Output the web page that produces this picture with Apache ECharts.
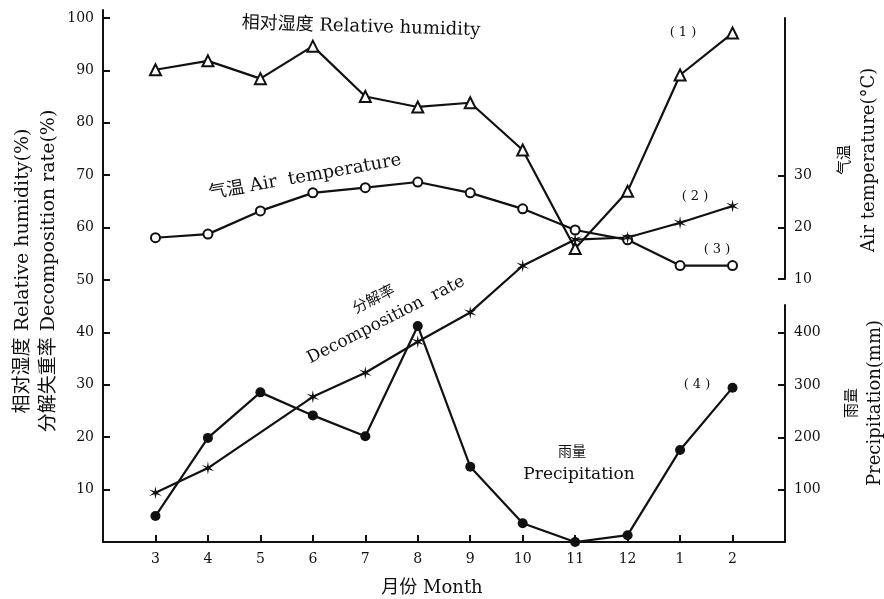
<!DOCTYPE html>
<html>
<head>
<meta charset="utf-8">
<script src="https://cdn.jsdelivr.net/npm/echarts@6/dist/echarts.min.js"></script>
<style>html,body{margin:0;padding:0;background:#fff}#c{width:884px;height:599px}</style>
</head>
<body>
<div id="c"></div>
<script>
// ---- data ----
var months = ['3','4','5','6','7','8','9','10','11','12','1','2'];
var humidity = [90.1, 91.8, 88.4, 94.6, 85.0, 83.0, 83.8, 74.8, 56.0, 66.9, 89.1, 97.1];
var temperature = [18.0, 18.7, 23.2, 26.7, 27.7, 28.8, 26.7, 23.6, 19.5, 17.6, 12.6, 12.6];
var decomposition = [9.4, 14.1, null, 27.7, 32.3, 38.2, 43.8, 52.7, 57.7, 58.1, 60.9, 64.1];
var precipitation = [49.6, 199, 286, 242, 202, 413, 144, 36, 0, 13, 176, 295];
var leftTicks = [10, 20, 30, 40, 50, 60, 70, 80, 90, 100];
var tempTicks = [10, 20, 30];
var precTicks = [100, 200, 300, 400];

var categories = [''].concat(months).concat([' ']);
function pairs(arr) { return arr.map(function (v, i) { return [i + 1, v]; }); }

var FONT = '"DejaVu Serif", "Noto Sans CJK SC", serif';

// six-point asterisk star symbol
function starPath() {
  var pts = [], n = 6, R = 10, r = 2.6;
  for (var i = 0; i < n * 2; i++) {
    var a = Math.PI / n * i - Math.PI / 2;
    var rad = (i % 2 === 0) ? R : r;
    pts.push((R + rad * Math.cos(a)).toFixed(2) + ',' + (R + rad * Math.sin(a)).toFixed(2));
  }
  return 'path://M' + pts.join(' L') + ' Z';
}

var black = '#111';
var axisLine = { show: true, lineStyle: { color: black, width: 2 } };

function xAx(idx, show) {
  return {
    type: 'category', gridIndex: idx, data: categories, boundaryGap: false,
    show: show,
    axisLine: axisLine,
    axisTick: { show: true, inside: true, length: 7, lineStyle: { color: black, width: 2 },
      interval: function (i) { return i > 0 && i < categories.length - 1; } },
    axisLabel: { interval: 0, color: black, fontFamily: FONT, fontSize: 14, margin: 10 },
    splitLine: { show: false }
  };
}

function txt(x, y, text, size, rot, extra) {
  var style = { text: text, font: size + 'px ' + FONT, align: 'center', verticalAlign: 'middle', fill: black };
  if (extra) { for (var k in extra) style[k] = extra[k]; }
  return { type: 'text', x: x, y: y, rotation: rot || 0, style: style };
}

var chart = echarts.init(document.getElementById('c'), null, { renderer: 'canvas' });
chart.setOption({
  animation: false,
  backgroundColor: '#fff',
  grid: [
    { left: 103, right: 99, top: 10, bottom: 57 },
    { left: 103, right: 99, top: 18, bottom: 320 },
    { left: 103, right: 99, top: 305, bottom: 57 }
  ],
  xAxis: [xAx(0, true), xAx(1, false), xAx(2, false)],
  yAxis: [
    {
      type: 'value', gridIndex: 0, position: 'left', min: 0, max: 101.5,
      axisLine: axisLine,
      axisTick: { show: true, inside: true, length: 7, customValues: leftTicks, lineStyle: { color: black, width: 2 } },
      axisLabel: { customValues: leftTicks, color: black, fontFamily: FONT, fontSize: 14, margin: 9 },
      splitLine: { show: false }
    },
    {
      type: 'value', gridIndex: 1, position: 'right', min: 10, max: 60.6,
      axisLine: axisLine,
      axisTick: { show: true, inside: true, length: 7, customValues: tempTicks, lineStyle: { color: black, width: 2 } },
      axisLabel: { customValues: tempTicks, color: black, fontFamily: FONT, fontSize: 14, margin: 9 },
      splitLine: { show: false }
    },
    {
      type: 'value', gridIndex: 2, position: 'right', min: 0, max: 453,
      axisLine: axisLine,
      axisTick: { show: true, inside: true, length: 7, customValues: precTicks, lineStyle: { color: black, width: 2 } },
      axisLabel: { customValues: precTicks, color: black, fontFamily: FONT, fontSize: 14, margin: 9 },
      splitLine: { show: false }
    }
  ],
  series: [
    {
      name: 'Relative humidity', type: 'line', xAxisIndex: 0, yAxisIndex: 0,
      data: pairs(humidity), symbol: 'triangle', symbolSize: 11, showAllSymbol: true,
      lineStyle: { color: black, width: 2.2 },
      itemStyle: { color: '#fff', borderColor: black, borderWidth: 2 }
    },
    {
      name: 'Air temperature', type: 'line', xAxisIndex: 1, yAxisIndex: 1,
      data: pairs(temperature), symbol: 'circle', symbolSize: 9, showAllSymbol: true,
      lineStyle: { color: black, width: 2.2 },
      itemStyle: { color: '#fff', borderColor: black, borderWidth: 2 }
    },
    {
      name: 'Decomposition rate', type: 'line', xAxisIndex: 0, yAxisIndex: 0,
      data: pairs(decomposition), connectNulls: true, symbol: starPath(), symbolSize: 13, showAllSymbol: true,
      lineStyle: { color: black, width: 2.2 },
      itemStyle: { color: black }
    },
    {
      name: 'Precipitation', type: 'line', xAxisIndex: 2, yAxisIndex: 2,
      data: pairs(precipitation), symbol: 'circle', symbolSize: 10, showAllSymbol: true,
      lineStyle: { color: black, width: 2.2 },
      itemStyle: { color: black }
    }
  ],
  graphic: [
    txt(36, 271, '相对湿度 Relative humidity(%)\n分解失重率 Decomposition rate(%)', 19, Math.PI / 2, { lineHeight: 26 }),
    txt(857, 160, '{c|气温}\n{l|Air temperature(°C)}', 18, Math.PI / 2, {
      rich: { c: { fontSize: 15, fontFamily: FONT, lineHeight: 24 }, l: { fontSize: 18, fontFamily: FONT, lineHeight: 24 } } }),
    txt(864, 403, '{c|雨量}\n{l|Precipitation(mm)}', 18, Math.PI / 2, {
      rich: { c: { fontSize: 15, fontFamily: FONT, lineHeight: 23 }, l: { fontSize: 18, fontFamily: FONT, lineHeight: 23 } } }),
    txt(432, 588, '月份 Month', 18),
    txt(361, 27, '相对湿度 Relative humidity', 18, -0.03),
    txt(305, 177, '气温 Air  temperature', 18, 10 * Math.PI / 180),
    txt(374, 300, '分解率', 15, 27 * Math.PI / 180),
    txt(386, 320, 'Decomposition  rate', 17, 27 * Math.PI / 180),
    txt(572, 452, '雨量', 14),
    txt(579, 475, 'Precipitation', 17),
    txt(683, 33, '( 1 )', 13),
    txt(695, 197, '( 2 )', 13),
    txt(717, 250, '( 3 )', 13),
    txt(697, 385, '( 4 )', 13)
  ]
});
</script>
</body>
</html>
